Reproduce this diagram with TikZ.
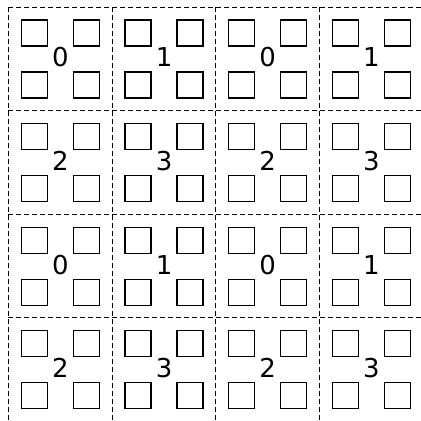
\documentclass[tikz,border=0pt]{standalone}
\usepackage{fontspec}
\setmainfont{DejaVu Sans}
\begin{document}
\begin{tikzpicture}[x=1pt,y=-1pt]
\pgfmathsetmacro{\D}{103.6}
\pgfmathsetmacro{\S}{26}
\useasboundingbox (0,0) rectangle (421,421);
\foreach \i in {0,...,3}{
  \draw[dash pattern=on 5pt off 3pt,line width=0.9pt] (8,{7+\i*\D})--(421,{7+\i*\D});
  \draw[dash pattern=on 5pt off 3pt,line width=0.9pt] ({8.5+\i*\D},7)--({8.5+\i*\D},421);}
\foreach \r in {0,...,3}{
  \foreach \c in {0,...,3}{
    \pgfmathtruncatemacro{\v}{2*mod(\r,2)+mod(\c,2)}
    \foreach \dx in {13,65}{
      \foreach \dy in {13,65}{
        \draw[line width=1.3pt] ({8.5+\c*\D+\dx},{7+\r*\D+\dy}) rectangle ++(\S,\S);}}
    \node[font=\fontsize{26}{26}\selectfont,inner sep=0pt] (d\r\c) at ({8.5+\c*\D+52},{7+\r*\D+50.5}) {\v};
  }}
\end{tikzpicture}
\end{document}
